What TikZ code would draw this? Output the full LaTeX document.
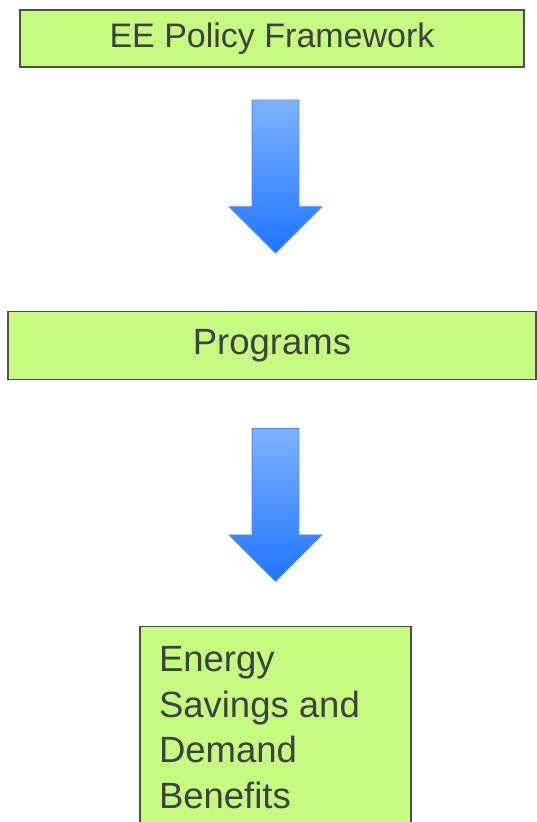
\documentclass[tikz,border=0pt]{standalone}
\usepackage{fontspec}
\setmainfont{Liberation Sans}
\usepackage{tikz}
\usetikzlibrary{positioning,shapes.arrows}
\definecolor{boxgreen}{HTML}{C6FB82}
\definecolor{boxline}{HTML}{4D4D4D}
\definecolor{textgrey}{HTML}{404040}
\definecolor{arrowtop}{HTML}{7DB2FF}
\definecolor{arrowbot}{HTML}{1F75FF}
\definecolor{arrowline}{HTML}{4A8CFF}
\tikzstyle{level} = [rectangle, draw=boxline, line width=1.3pt, fill=boxgreen, text=textgrey, font=\fontsize{36.5}{45.5}\selectfont, inner sep=0pt]
\tikzstyle{down} = [single arrow, shape border rotate=270, draw=arrowline, line width=0.8pt, top color=arrowtop, bottom color=arrowbot, minimum height=153pt, single arrow head extend=23pt, inner sep=23pt]

\begin{document}
\begin{tikzpicture}[x=1pt, y=1pt]

		\useasboundingbox (0,0) rectangle (536,-822);

		\node (policy) [level, minimum width=504pt, minimum height=57pt, font=\fontsize{34}{40}\selectfont] at (272,-38.5) {EE Policy Framework};
		\node (arrowA) [down, below=32pt of policy, xshift=3.5pt] {};
		\node (programs) [level, minimum width=528pt, minimum height=68pt, below=57pt of arrowA, xshift=-3.5pt] {Programs};
		\node (arrowB) [down, below=48pt of programs, xshift=3.5pt] {};
		\node (benefits) [level, anchor=north, inner xsep=19pt, inner ysep=20pt] at ([yshift=-44pt]arrowB.south) {\parbox[t][220pt][t]{233pt}{Energy\\Savings and\\Demand\\Benefits}};

		\end{tikzpicture}
\end{document}
